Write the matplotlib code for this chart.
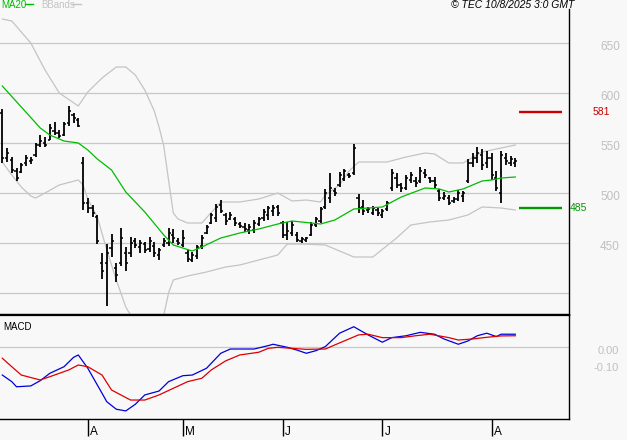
import matplotlib
matplotlib.use("Agg")
import matplotlib.pyplot as plt
from matplotlib.transforms import blended_transform_factory, offset_copy

plt.rcParams['font.family'] = ['Liberation Sans', 'DejaVu Sans']

# ---------------- data ----------------
highs = [584, 545, 536, 525, 530, 538, 536, 550, 558, 556, 569, 571, 563, 571, 587, 580, 575,
         536, 495, 488, 478, 440, 449, 459, 430, 465, 446, 456, 455, 453, 451, 456, 451, 445,
         455, 465, 464, 455, 463, 443, 441, 448, 458, 468, 480, 489, 493, 480, 481, 476, 471,
         470, 469, 473, 476, 484, 487, 488, 488, 472, 471, 472, 461, 456, 456, 471, 476, 486,
         504, 520, 505, 521, 524, 520, 549, 499, 493, 486, 487, 485, 484, 492, 524, 520, 510,
         518, 521, 516, 526, 524, 516, 516, 504, 501, 498, 496, 503, 502, 534, 540, 546, 544,
         542, 540, 522, 542, 540, 537, 535]
lows = [530, 531, 520, 512, 520, 527, 529, 536, 546, 546, 553, 558, 555, 557, 567, 570, 566,
        483, 480, 476, 449, 414, 387, 436, 411, 427, 422, 436, 445, 440, 440, 441, 436, 433,
        446, 447, 450, 448, 446, 431, 431, 434, 444, 459, 469, 471, 480, 468, 473, 467, 465,
        461, 459, 460, 467, 472, 473, 477, 477, 455, 453, 457, 451, 450, 451, 457, 466, 470,
        484, 490, 497, 506, 512, 515, 518, 480, 478, 480, 478, 477, 475, 482, 502, 505, 501,
        503, 510, 506, 510, 515, 510, 505, 492, 493, 488, 490, 492, 491, 510, 526, 530, 523,
        525, 513, 502, 490, 528, 527, 526]
opens = [580, 535, 533, 522, 521, 530, 532, 538, 548, 550, 553, 562, 560, 558, 570, 578, 573,
         530, 490, 485, 476, 430, 430, 445, 425, 430, 440, 440, 452, 446, 449, 444, 447, 438,
         448, 450, 458, 452, 448, 440, 433, 437, 447, 460, 470, 475, 488, 478, 474, 474, 469,
         466, 463, 463, 469, 475, 478, 482, 486, 470, 458, 460, 458, 452, 453, 458, 468, 472,
         486, 495, 502, 508, 514, 518, 520, 495, 486, 483, 480, 483, 478, 484, 505, 515, 508,
         505, 513, 512, 512, 520, 515, 512, 502, 495, 495, 492, 494, 497, 512, 530, 535, 538,
         530, 535, 515, 500, 535, 530, 530]
closes = [535, 540, 523, 515, 528, 535, 533, 548, 552, 548, 565, 560, 557, 569, 582, 575, 567,
          490, 485, 480, 452, 422, 440, 452, 418, 455, 430, 450, 448, 450, 443, 452, 440, 443,
          452, 460, 455, 450, 455, 434, 438, 446, 455, 466, 478, 486, 482, 472, 478, 470, 467,
          464, 466, 470, 474, 481, 485, 485, 480, 458, 462, 468, 453, 454, 455, 468, 474, 484,
          500, 505, 500, 518, 522, 517, 545, 485, 482, 484, 485, 480, 482, 490, 520, 508, 505,
          515, 518, 510, 522, 518, 512, 508, 495, 497, 490, 494, 500, 500, 530, 535, 540, 528,
          535, 518, 505, 538, 532, 534, 532]

ma_idx = [0, 4, 8, 10, 13, 16, 18, 20, 23, 26, 30, 34, 36, 40, 42, 46, 50, 54, 58, 61, 65, 67,
          70, 74, 80, 84, 89, 92, 94, 97, 101, 103, 105, 108]
ma_val = [607, 586, 565, 558, 552, 550, 543, 534, 523, 501, 481, 458, 448, 442, 446, 455, 460,
          464, 469, 472, 470, 469, 473, 484, 486, 496, 505, 504, 501, 504, 512, 513, 515, 516]

bbu_idx = [0, 2, 4, 6, 9, 12, 16, 18, 21, 24, 26, 28, 30, 32, 33, 34, 35, 36, 37, 39, 42, 46,
           50, 54, 58, 61, 64, 67, 68, 71, 73, 75, 81, 85, 89, 91, 94, 97, 101, 105, 108]
bbu_val = [674, 672, 661, 650, 623, 600, 587, 601, 615, 626, 626, 618, 603, 582, 566, 547, 513,
           480, 474, 470, 470, 491, 491, 494, 500, 492, 493, 491, 498, 508, 522, 531, 531, 536,
           540, 539, 530, 530, 541, 545, 548]

bbl_idx = [0, 2, 4, 6, 7, 9, 12, 16, 17, 18, 20, 22, 24, 26, 28, 30, 32, 34, 35, 36, 39, 43,
           47, 50, 54, 58, 60, 63, 68, 74, 78, 83, 86, 90, 94, 98, 101, 105, 108]
bbl_val = [531, 518, 506, 497, 495, 500, 508, 513, 508, 494, 476, 443, 413, 386, 370, 362, 365,
           378, 400, 413, 417, 421, 426, 428, 433, 438, 449, 449, 448, 436, 436, 455, 468, 471,
           473, 478, 486, 485, 483]

macd_idx = [0, 2, 3, 6, 8, 10, 13, 15, 16, 18, 21, 22, 24, 26, 28, 30, 33, 35, 38, 40, 43, 46,
            48, 53, 56, 57, 60, 62, 64, 66, 68, 71, 74, 77, 80, 82, 85, 88, 91, 93, 96, 98,
            100, 102, 104, 105, 108]
macd_val = [-0.165, -0.204, -0.234, -0.229, -0.198, -0.155, -0.116, -0.061, -0.047, -0.125,
            -0.272, -0.322, -0.366, -0.376, -0.337, -0.282, -0.259, -0.204, -0.169, -0.165,
            -0.125, -0.037, -0.012, -0.012, 0.008, 0.016, -0.002, -0.018, -0.037, -0.022, 0.002,
            0.081, 0.119, 0.071, 0.028, 0.055, 0.066, 0.086, 0.075, 0.047, 0.016, 0.035, 0.066,
            0.081, 0.061, 0.075, 0.075]

sig_idx = [0, 2, 4, 8, 11, 14, 16, 18, 21, 23, 27, 30, 33, 36, 39, 42, 44, 47, 50, 54, 56, 58,
           61, 64, 68, 70, 75, 77, 80, 84, 87, 90, 94, 96, 99, 102, 105, 108]
sig_val = [-0.066, -0.116, -0.165, -0.194, -0.165, -0.135, -0.106, -0.116, -0.165, -0.253,
           -0.312, -0.312, -0.282, -0.243, -0.204, -0.184, -0.135, -0.082, -0.047, -0.031,
           -0.008, -0.002, -0.008, -0.014, -0.012, 0.012, 0.071, 0.075, 0.055, 0.055, 0.066,
           0.075, 0.055, 0.041, 0.047, 0.057, 0.065, 0.066]

price_ticks = [650, 600, 550, 500, 450]
price_grid = [400, 450, 500, 550, 600, 650]
macd_ticks = [0.0, -0.10]
macd_tick_labels = ["0.00", "-0.10"]
month_pos = [18, 38, 59, 80, 103]
month_labels = ["A", "M", "J", "J", "A"]
level_values = [581, 485]
level_colors = ["#cc0000", "#009900"]

# ---------------- figure ----------------
BG = "#f8f8f8"
GRID = "#c8c8c8"
W, H = 627, 440
fig = plt.figure(figsize=(W / 100, H / 100), dpi=100, facecolor=BG)

def fx(px):
    return px / W

def fy(py):
    return 1 - py / H

XL = (-0.48, 119.3)
ax = fig.add_axes([0, fy(315), fx(569), fy(9) - fy(315)])
am = fig.add_axes([0, fy(419), fx(569), fy(315) - fy(419)])
for a in (ax, am):
    a.set_facecolor(BG)
    a.set_xlim(*XL)
    a.spines['left'].set_visible(False)
    a.tick_params(left=False, right=False, labelleft=False, labelright=False)

ax.set_ylim(378, 684)
ax.spines['top'].set_visible(False)
ax.spines['right'].set_linewidth(1.0)
ax.spines['bottom'].set_linewidth(1.6)
ax.set_xticks([])
ax.set_yticks([])

for g in price_grid:
    ax.axhline(g, color=GRID, lw=0.9, zorder=1)

# Bollinger and MA
ax.plot(bbu_idx, bbu_val, color="#c4c4c4", lw=0.9, zorder=2)
ax.plot(bbl_idx, bbl_val, color="#c4c4c4", lw=0.9, zorder=2)
ax.plot(ma_idx, ma_val, color="#00bb00", lw=0.9, zorder=4)

# OHLC bars
n = len(highs)
xs = list(range(n))
tk = 0.45
ax.vlines(xs, lows, highs, color="black", lw=1.3, zorder=3)
ax.hlines(opens, [x - tk for x in xs], xs, color="black", lw=1.1, zorder=3)
ax.hlines(closes, xs, [x + tk for x in xs], color="black", lw=1.1, zorder=3)

# level lines
for v, c in zip(level_values, level_colors):
    ax.hlines(v, 108.8, 117.8, color=c, lw=1.7, zorder=4)

trR = blended_transform_factory(fig.transFigure, ax.transData)
ax.text(fx(593), level_values[0], str(level_values[0]), transform=trR, color=level_colors[0],
        fontsize=7.5, va='center', ha='left', clip_on=False)
ax.text(fx(570), level_values[1], str(level_values[1]), transform=trR, color=level_colors[1],
        fontsize=7.5, va='center', ha='left', clip_on=False)

trP = offset_copy(trR, fig=fig, x=0, y=-4 * 0.72, units='points')
for p in price_ticks:
    ax.text(fx(600), p, str(p), transform=trP, color="#c0c0c0", fontsize=8.5,
            va='center', ha='left', clip_on=False)

# header texts
fig.text(fx(1), fy(5), "MA20", color="#00bb00", fontsize=7, va='center', ha='left')
fig.lines.append(plt.Line2D([fx(25), fx(33)], [fy(4.5), fy(4.5)], color="#00bb00", lw=1,
                            transform=fig.transFigure))
fig.text(fx(41), fy(5), "BBands", color="#c4c4c4", fontsize=7, va='center', ha='left')
fig.lines.append(plt.Line2D([fx(72), fx(81)], [fy(4.5), fy(4.5)], color="#c4c4c4", lw=1,
                            transform=fig.transFigure))
fig.text(fx(574), fy(5), "\u00a9 TEC 10/8/2025 3:0 GMT", color="black", fontsize=7.5,
         style='italic', va='center', ha='right')

# ---------------- MACD ----------------
am.set_ylim(-0.4235, 0.188)
am.spines['top'].set_linewidth(1.6)
am.spines['right'].set_linewidth(1.0)
am.spines['bottom'].set_linewidth(1.0)
am.set_yticks([])
am.axhline(0.0, color=GRID, lw=0.9, zorder=1)
am.plot(macd_idx, macd_val, color="#0000dd", lw=0.9, zorder=3)
am.plot(sig_idx, sig_val, color="#dd0000", lw=0.9, zorder=3)
am.text(0.005, 0.88, "MACD", transform=am.transAxes, fontsize=7, color="black",
        va='center', ha='left')

am.set_xticks(month_pos)
am.set_xticklabels([])
am.tick_params(axis='x', direction='out', length=12, width=1.0, color='black')
trM = blended_transform_factory(am.transData, am.transAxes)
for p, lab in zip(month_pos, month_labels):
    am.annotate(lab, xy=(p, 0), xycoords=trM, xytext=(1.5, -14), textcoords='offset points',
                fontsize=8.5, ha='left', va='bottom', color='black', annotation_clip=False)

trRM = blended_transform_factory(fig.transFigure, am.transData)
trRM2 = offset_copy(trRM, fig=fig, x=0, y=-4 * 0.72, units='points')
for v, lab in zip(macd_ticks, macd_tick_labels):
    am.text(fx(619), v, lab, transform=trRM2, color="#c0c0c0", fontsize=8,
            va='center', ha='right', clip_on=False)

fig.savefig("out.png", dpi=100, facecolor=BG)
